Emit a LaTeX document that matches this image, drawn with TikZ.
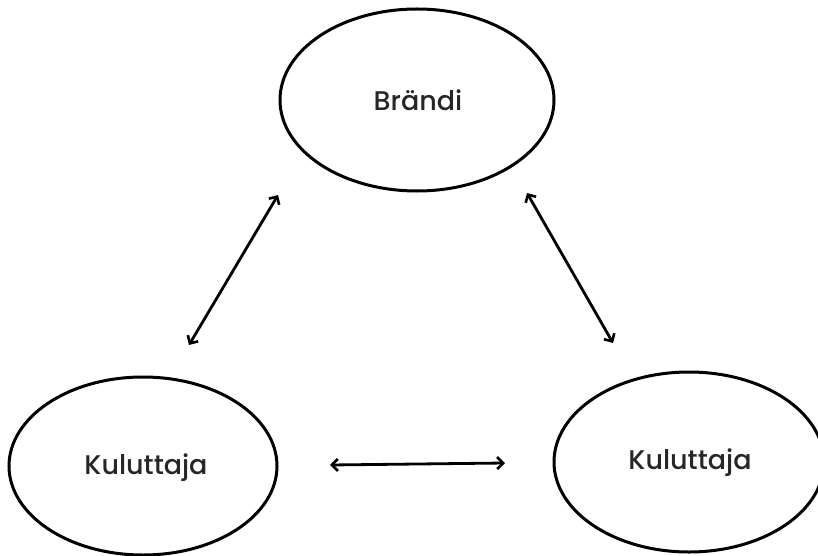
\documentclass[tikz,border=0pt]{standalone}
\usepackage{fontspec}
\setmainfont{Poppins}[UprightFont={* Medium}]
\usetikzlibrary{arrows.meta}
\begin{document}
\begin{tikzpicture}[x=1pt,y=-1pt,
  blob/.style={draw=black,line width=3pt,fill=white},
  lbl/.style={font=\fontsize{27}{32}\selectfont,text=black!85},
  link/.style={line width=2.8pt,{Straight Barb[length=6pt,width=12pt,line width=2.6pt]}-{Straight Barb[length=6pt,width=12pt,line width=2.6pt]}}]
\useasboundingbox (0,0) rectangle (818,556);
\draw[blob] (417,100) ellipse [x radius=137,y radius=91];
\draw[blob] (143,466) ellipse [x radius=134,y radius=89];
\draw[blob] (689,462) ellipse [x radius=135,y radius=90];
\node[lbl] (brandi) at (418,100) {Brändi};
\node[lbl] (kul1) at (146,468) {Kuluttaja};
\node[lbl] (kul2) at (690,463) {Kuluttaja};
\coordinate (a1) at (278,195);
\coordinate (a2) at (189,345);
\coordinate (b1) at (527,193);
\coordinate (b2) at (613,343);
\coordinate (c1) at (330,465);
\coordinate (c2) at (505,463);
\draw[link] (a1) -- (a2);
\draw[link] (b1) -- (b2);
\draw[link] (c1) -- (c2);
\end{tikzpicture}
\end{document}
